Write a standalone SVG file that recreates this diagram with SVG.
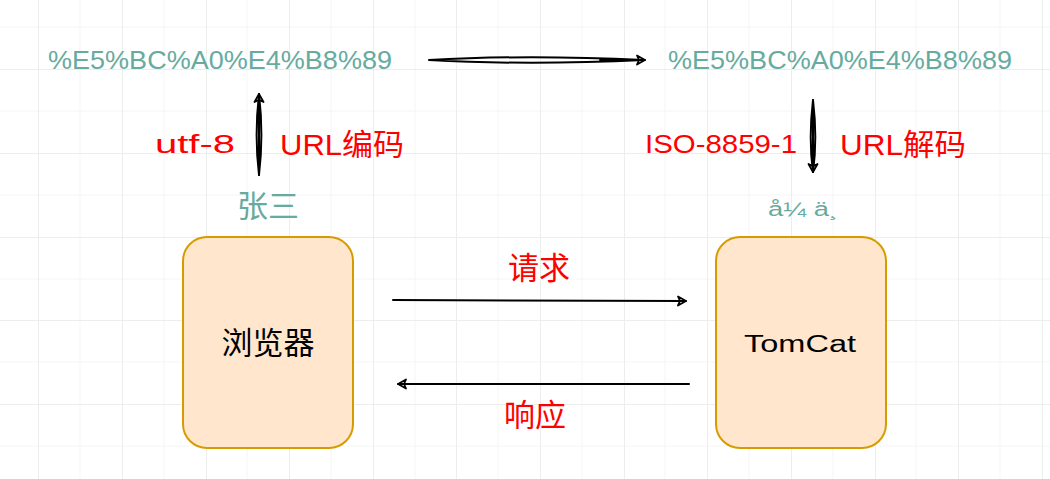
<svg xmlns="http://www.w3.org/2000/svg" width="1050" height="479" viewBox="0 0 1050 479">
<defs>
<style>
.grid-minor{stroke:#f5f5f5;stroke-width:1}
.grid-major{stroke:#ebeeeb;stroke-width:1}
.box{fill:#ffe6cc;stroke:#d79b00;stroke-width:2}
.teal{fill:#67ab9f;font-family:"Liberation Sans","Noto Sans CJK SC",sans-serif}
.red{fill:#ff0000;font-family:"Liberation Sans","Noto Sans CJK SC",sans-serif}
.dark{fill:#000;font-family:"Liberation Sans","Noto Sans CJK SC",sans-serif}
.line{fill:none;stroke:#000;stroke-width:2;stroke-linecap:round;stroke-linejoin:round}
</style>
<marker id="open" viewBox="0 0 12 12" refX="10" refY="6" markerWidth="12" markerHeight="12" markerUnits="userSpaceOnUse" orient="auto">
<path d="M2,1.5 L10,6 L2,10.5 L4,6 Z" fill="none" stroke="#000" stroke-width="1.8" stroke-linejoin="round"/>
</marker>
</defs>
<rect width="1050" height="479" fill="#ffffff"/>
<g id="grid">
<g class="grid-minor">
<line x1="80" y1="0" x2="80" y2="479"/><line x1="164" y1="0" x2="164" y2="479"/><line x1="247" y1="0" x2="247" y2="479"/><line x1="331" y1="0" x2="331" y2="479"/><line x1="415" y1="0" x2="415" y2="479"/><line x1="498" y1="0" x2="498" y2="479"/><line x1="582" y1="0" x2="582" y2="479"/><line x1="665" y1="0" x2="665" y2="479"/><line x1="749" y1="0" x2="749" y2="479"/><line x1="833" y1="0" x2="833" y2="479"/><line x1="916" y1="0" x2="916" y2="479"/><line x1="1000" y1="0" x2="1000" y2="479"/>
<line x1="0" y1="27" x2="1050" y2="27"/><line x1="0" y1="111" x2="1050" y2="111"/><line x1="0" y1="195" x2="1050" y2="195"/><line x1="0" y1="279" x2="1050" y2="279"/><line x1="0" y1="362" x2="1050" y2="362"/><line x1="0" y1="446" x2="1050" y2="446"/>
</g>
<g class="grid-major">
<line x1="38.5" y1="0" x2="38.5" y2="479"/><line x1="122.5" y1="0" x2="122.5" y2="479"/><line x1="206.5" y1="0" x2="206.5" y2="479"/><line x1="289.5" y1="0" x2="289.5" y2="479"/><line x1="373.5" y1="0" x2="373.5" y2="479"/><line x1="456.5" y1="0" x2="456.5" y2="479"/><line x1="540.5" y1="0" x2="540.5" y2="479"/><line x1="624.5" y1="0" x2="624.5" y2="479"/><line x1="707.5" y1="0" x2="707.5" y2="479"/><line x1="791.5" y1="0" x2="791.5" y2="479"/><line x1="875.5" y1="0" x2="875.5" y2="479"/><line x1="958.5" y1="0" x2="958.5" y2="479"/><line x1="1042.5" y1="0" x2="1042.5" y2="479"/>
<line x1="0" y1="69.5" x2="1050" y2="69.5"/><line x1="0" y1="153.5" x2="1050" y2="153.5"/><line x1="0" y1="237.5" x2="1050" y2="237.5"/><line x1="0" y1="320.5" x2="1050" y2="320.5"/><line x1="0" y1="404.5" x2="1050" y2="404.5"/>
</g>
</g>
<g id="browser">
<rect class="box" x="183" y="237" width="170" height="211" rx="24"/>
<text class="dark" x="268" y="354" font-size="31" text-anchor="middle">浏览器</text>
</g>
<g id="tomcat">
<rect class="box" x="716" y="237" width="170" height="211" rx="24"/>
<text class="dark" x="800" y="352" font-size="23" text-anchor="middle" textLength="112" lengthAdjust="spacingAndGlyphs">TomCat</text>
</g>
<g id="encoded-left">
<text class="teal" x="48" y="69" font-size="25" textLength="344" lengthAdjust="spacingAndGlyphs">%E5%BC%A0%E4%B8%89</text>
</g>
<g id="encoded-right">
<text class="teal" x="668" y="69" font-size="25" textLength="344" lengthAdjust="spacingAndGlyphs">%E5%BC%A0%E4%B8%89</text>
</g>
<g id="zhangsan">
<text class="teal" x="268" y="217" font-size="31" text-anchor="middle">张三</text>
</g>
<g id="garbled">
<text class="teal" x="768" y="216" font-size="20" textLength="70" lengthAdjust="spacingAndGlyphs">å¼  ä¸</text>
</g>
<g id="labels">
<text class="red" x="155" y="153" font-size="25" textLength="80" lengthAdjust="spacingAndGlyphs">utf-8</text>
<text class="red" x="280" y="155" font-size="30" textLength="124" lengthAdjust="spacingAndGlyphs">URL编码</text>
<text class="red" x="645" y="153" font-size="25" textLength="152" lengthAdjust="spacingAndGlyphs">ISO-8859-1</text>
<text class="red" x="840" y="155" font-size="30" textLength="126" lengthAdjust="spacingAndGlyphs">URL解码</text>
<text class="red" x="539" y="279" font-size="31" text-anchor="middle">请求</text>
<text class="red" x="535" y="426" font-size="31" text-anchor="middle">响应</text>
</g>
<g id="connectors">
<path class="line" d="M429,60 C500,56 580,57 644,60 C580,63 500,64 429,60"/>
<path class="line" d="M600,60 L645,60" marker-end="url(#open)"/>
<path class="line" d="M259,175 C256,150 256,120 259,94 C262,120 262,150 259,175"/>
<path class="line" d="M259,175 L259,94" marker-end="url(#open)"/>
<path class="line" d="M813,100 C810,125 810,150 813,172 C816,150 816,125 813,100"/>
<path class="line" d="M813,100 L813,172" marker-end="url(#open)"/>
<path class="line" d="M393,300 L686,301" marker-end="url(#open)"/>
<path class="line" d="M689,384 L398,384" marker-end="url(#open)"/>
</g>
</svg>
